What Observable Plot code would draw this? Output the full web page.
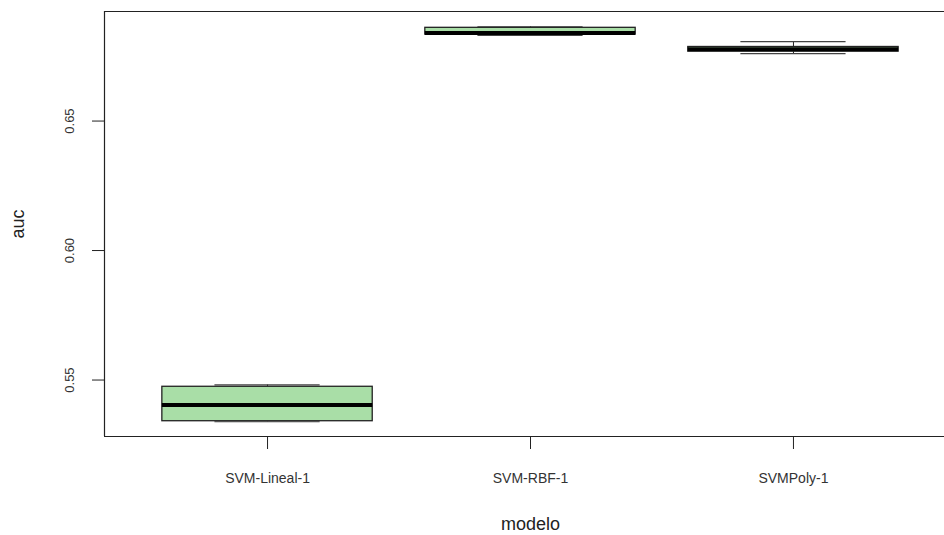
<!DOCTYPE html>
<html>
<head>
<meta charset="utf-8">
<script src="https://cdn.jsdelivr.net/npm/d3@7"></script>
<script src="https://cdn.jsdelivr.net/npm/@observablehq/plot@0.6"></script>
<style>
  html, body { margin: 0; padding: 0; background: #fff; }
  svg { display: block; }
</style>
</head>
<body>
<div id="chart"></div>
<script>
// AUC distribution per SVM model (box-and-whisker summary)
const models      = ["SVM-Lineal-1", "SVM-RBF-1", "SVMPoly-1"];
const whiskerLow  = [0.5339, 0.6831, 0.6760];
const q1          = [0.5341, 0.6834, 0.6768];
const median      = [0.5404, 0.6840, 0.6777];
const q3          = [0.5474, 0.6860, 0.6786];
const whiskerHigh = [0.5481, 0.6864, 0.6807];
const yTicks      = [0.55, 0.60, 0.65];

const boxes = models.map((m, i) => ({
  model: m, pos: i + 1,
  lo: whiskerLow[i], q1: q1[i], med: median[i], q3: q3[i], hi: whiskerHigh[i]
}));

const boxHalf = 0.4, capHalf = 0.2;
const xDomain = [0.38, 3.62];
const yDomain = [0.5282, 0.6923];
const font = "'Liberation Sans', Arial, Helvetica, sans-serif";
const ink = "#222";

const chart = Plot.plot({
  width: 944,
  height: 535,
  marginLeft: 104,
  marginRight: 0,
  marginTop: 11,
  marginBottom: 99,
  style: { fontFamily: font, background: "#fff", overflow: "hidden" },
  x: { domain: xDomain, range: [104, 956], axis: null },
  y: { domain: yDomain, axis: null },
  marks: [
    // whiskers
    Plot.ruleX(boxes, { x: "pos", y1: "q3", y2: "hi", stroke: ink, strokeWidth: 1, strokeDasharray: "5,4" }),
    Plot.ruleX(boxes, { x: "pos", y1: "lo", y2: "q1", stroke: ink, strokeWidth: 1, strokeDasharray: "5,4" }),
    // whisker caps
    Plot.ruleY(boxes, { y: "hi", x1: d => d.pos - capHalf, x2: d => d.pos + capHalf, stroke: "#444", strokeWidth: 1.2 }),
    Plot.ruleY(boxes, { y: "lo", x1: d => d.pos - capHalf, x2: d => d.pos + capHalf, stroke: "#444", strokeWidth: 1.2 }),
    // boxes
    Plot.rect(boxes, {
      x1: d => d.pos - boxHalf, x2: d => d.pos + boxHalf,
      y1: "q1", y2: "q3",
      fill: "#a9dea7", stroke: ink, strokeWidth: 1.3
    }),
    // medians
    Plot.ruleY(boxes, { y: "med", x1: d => d.pos - boxHalf, x2: d => d.pos + boxHalf, stroke: "#000", strokeWidth: 4 }),
    // plot frame (right edge lies beyond the page)
    Plot.ruleX([xDomain[0]], { stroke: ink, strokeWidth: 1.2 }),
    Plot.ruleY(yDomain, { x1: xDomain[0], x2: xDomain[1], stroke: ink, strokeWidth: 1.2 }),
    // y axis ticks and rotated labels
    Plot.axisY({ ticks: yTicks, tickSize: 12, tickFormat: () => "", label: null, stroke: ink }),
    Plot.text(yTicks, {
      y: d => d, text: d => d3.format(".2f")(d),
      frameAnchor: "left", dx: -35, rotate: -90,
      textAnchor: "middle", lineAnchor: "middle",
      fontSize: 13, fill: "#333"
    }),
    // x axis ticks and labels
    Plot.axisX({ ticks: [1, 2, 3], tickSize: 13, tickFormat: () => "", label: null, stroke: ink }),
    Plot.text(boxes, {
      x: "pos", text: "model", frameAnchor: "bottom", dy: 42,
      lineAnchor: "middle", fontSize: 14, fill: "#333"
    }),
    // axis titles
    Plot.text(["modelo"], {
      x: 2, frameAnchor: "bottom", dy: 88, lineAnchor: "middle",
      fontSize: 18, fill: "#222"
    }),
    Plot.text(["auc"], {
      y: (yDomain[0] + yDomain[1]) / 2, frameAnchor: "left", dx: -86,
      rotate: -90, textAnchor: "middle", lineAnchor: "middle",
      fontSize: 18, fill: "#222"
    })
  ]
});

document.getElementById("chart").appendChild(chart);
</script>
</body>
</html>
